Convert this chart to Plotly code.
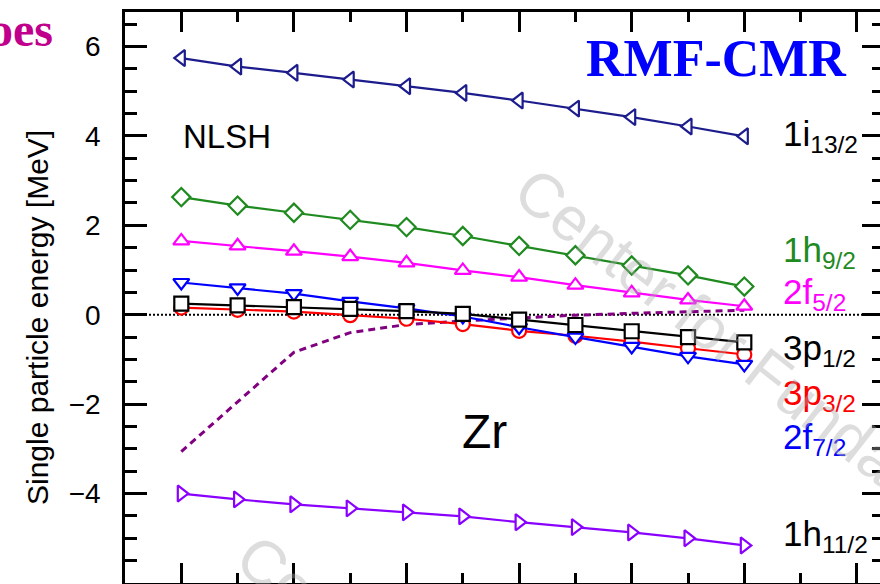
import plotly.graph_objects as go

# Zr isotopes (mass number) and single-particle energies [MeV] from NLSH
mass_number = [122, 124, 126, 128, 130, 132, 134, 136, 138, 140, 142]

e_1i13 = [5.74, 5.55, 5.41, 5.26, 5.11, 4.96, 4.79, 4.61, 4.42, 4.21, 3.99]
e_1h9 = [2.63, 2.44, 2.28, 2.12, 1.96, 1.76, 1.54, 1.33, 1.10, 0.88, 0.63]
e_2f5 = [1.65, 1.54, 1.42, 1.30, 1.16, 0.99, 0.84, 0.66, 0.49, 0.33, 0.19]
e_3p1 = [0.25, 0.21, 0.17, 0.13, 0.08, 0.02, -0.11, -0.23, -0.37, -0.50, -0.62]
e_3p3 = [0.16, 0.11, 0.07, -0.01, -0.09, -0.21, -0.36, -0.47, -0.60, -0.75, -0.89]
e_2f7 = [0.72, 0.60, 0.47, 0.30, 0.14, -0.04, -0.28, -0.50, -0.71, -0.93, -1.11]
e_1h11 = [-4.00, -4.13, -4.24, -4.33, -4.42, -4.51, -4.64, -4.75, -4.87, -5.00, -5.16]
fermi = [-3.06, -1.95, -0.84, -0.40, -0.22, -0.14, -0.07, -0.01, 0.03, 0.06, 0.10]

W, H = 880, 584
ML, MR, MT, MB = 125, 0, 12, 1
PW, PH = W - ML - MR, H - MT - MB


def px(x):
    return (x - ML) / PW


def py(y):
    return (H - MB - y) / PH


SANS = "Liberation Sans, Arial, sans-serif"
SERIF = "Liberation Serif, Times New Roman, serif"

levels = [
    ("1h<sub>11/2</sub>", e_1h11, "#8a00ff", "triangle-right", "#000000", 536),
    ("1i<sub>13/2</sub>", e_1i13, "#1c1c8c", "triangle-left", "#000000", 136),
    ("1h<sub>9/2</sub>", e_1h9, "#1f8a1f", "diamond", "#1f8a1f", 252),
    ("2f<sub>5/2</sub>", e_2f5, "#ff00ff", "triangle-up", "#ff00ff", 294),
    ("3p<sub>3/2</sub>", e_3p3, "#ff0000", "circle", "#ff0000", 395),
    ("2f<sub>7/2</sub>", e_2f7, "#0000ff", "triangle-down", "#0000ff", 439),
    ("3p<sub>1/2</sub>", e_3p1, "#000000", "square", "#000000", 350),
]

fig = go.Figure()

# zero-energy reference line
fig.add_shape(type="line", xref="paper", yref="y", x0=0, x1=1, y0=0, y1=0,
              line=dict(color="black", width=2, dash="2px,2px"), layer="below")

# continuum threshold (dashed)
fig.add_trace(go.Scatter(x=mass_number, y=fermi, mode="lines",
                         line=dict(color="#800080", width=3, dash="7px,5px"),
                         showlegend=False, hoverinfo="skip"))

annotations = []


def note(text, x, y, size, color="black", family=SANS, angle=0,
         xanchor="center", yanchor="middle"):
    annotations.append(dict(
        text=text, xref="paper", yref="paper", x=px(x), y=py(y),
        xanchor=xanchor, yanchor=yanchor, textangle=angle, showarrow=False,
        font=dict(family=family, size=size, color=color)))


for label, vals, color, symbol, lcolor, ylab in levels:
    fig.add_trace(go.Scatter(
        x=mass_number, y=vals, mode="lines+markers",
        line=dict(color=color, width=2.2),
        marker=dict(symbol=symbol, size=14, color="white",
                    line=dict(color=color, width=2.2)),
        showlegend=False, hoverinfo="skip"))
    note(label, 781, ylab, 35, lcolor, xanchor="left")

# watermark
note("Center for Funda", 708, 325, 62, "rgba(170,170,170,0.4)", angle=38)
note("Center for Funda", 430, 692, 62, "rgba(170,170,170,0.4)", angle=38)

note("NLSH", 227, 137, 33)
note("Zr", 484, 432, 48)
note("<b>RMF-CMR</b>", 716, 58, 52, "#0000ff", family=SERIF)
note("<b>oes</b>", 55, 30, 48, "#c0008c", family=SERIF, xanchor="right")
note("Single particle energy [MeV]", 37, 318, 30, angle=-90)

axis_common = dict(showgrid=False, zeroline=False, linecolor="black",
                   linewidth=2.5, tickcolor="black", tickwidth=2.5,
                   ticks="inside")

fig.update_layout(
    width=W, height=H,
    margin=dict(l=ML, r=MR, t=MT, b=MB),
    paper_bgcolor="white", plot_bgcolor="white",
    showlegend=False,
    annotations=annotations,
    xaxis=dict(range=[120, 146.82], tick0=122, dtick=4, ticklen=20,
               showticklabels=False, showline=True, mirror="ticks",
               minor=dict(dtick=2, tick0=122, ticklen=10, ticks="inside",
                          tickcolor="black", tickwidth=2.5),
               **axis_common),
    yaxis=dict(range=[-6, 6.77], tick0=0, dtick=2, ticklen=22,
               showline=True, mirror=False,
               tickfont=dict(family=SANS, size=28, color="black"),
               ticklabelstandoff=16,
               minor=dict(dtick=0.5, ticklen=12, ticks="inside",
                          tickcolor="black", tickwidth=2.5),
               **axis_common),
    yaxis2=dict(range=[-6, 6.77], overlaying="y", side="right", tick0=0,
                dtick=2, ticklen=18, showline=False, showticklabels=False,
                showgrid=False, zeroline=False, ticks="inside",
                tickcolor="black", tickwidth=2.5,
                minor=dict(dtick=0.5, ticklen=8, ticks="inside",
                           tickcolor="black", tickwidth=2.5)),
)

# invisible trace so the right-hand axis is drawn
fig.add_trace(go.Scatter(x=[mass_number[0]], y=[0], yaxis="y2",
                         mode="markers", marker=dict(opacity=0),
                         showlegend=False, hoverinfo="skip"))

fig.write_html("out.html")
